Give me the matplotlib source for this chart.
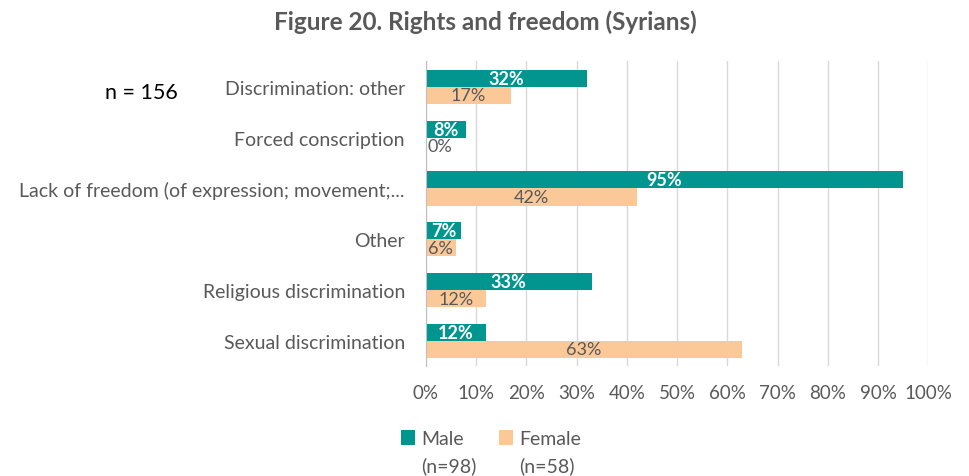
import numpy as np
import matplotlib.pyplot as plt
from matplotlib.ticker import PercentFormatter

# data
categories = ["Discrimination: other", "Forced conscription",
              "Lack of freedom (of expression; movement;...",
              "Other", "Religious discrimination", "Sexual discrimination"]
male = [32, 8, 95, 7, 33, 12]
female = [17, 0, 42, 6, 12, 63]
series_names = ["Male", "Female"]
series_n = ["(n=98)", "(n=58)"]

teal = "#00968F"
peach = "#FBC998"
grey = "#595959"

plt.rcParams['font.family'] = ['Lato', 'DejaVu Sans']

fig = plt.figure(figsize=(9.7, 4.77), dpi=100)
ax = fig.add_axes([0.439, 0.230, 0.518, 0.639])

y = np.arange(len(categories))
h = 0.335
bars_m = ax.barh(y - h / 2, male, height=h, color=teal, label=series_names[0])
bars_f = ax.barh(y + h / 2, female, height=h, color=peach, label=series_names[1])

for b, v in zip(bars_m, male):
    ax.text(v / 2, b.get_y() + b.get_height() / 2, f"{v}%", ha="center",
            va="center", color="white", fontweight="bold", fontsize=13)
for b, v in zip(bars_f, female):
    if v == 0:
        ax.text(0.4, b.get_y() + b.get_height() / 2, f"{v}%", ha="left",
                va="center", color=grey, fontsize=13)
    else:
        ax.text(v / 2, b.get_y() + b.get_height() / 2, f"{v}%", ha="center",
                va="center", color=grey, fontsize=13)

ax.set_xlim(0, 100)
ax.set_ylim(len(categories) - 0.5, -0.5)
ax.set_xticks(np.arange(0, 101, 10))
ax.xaxis.set_major_formatter(PercentFormatter(decimals=0))
ax.set_yticks(y)
ax.set_yticklabels(categories)
ax.tick_params(axis="y", length=0, pad=15, labelsize=14, labelcolor=grey)
ax.tick_params(axis="x", length=0, pad=13, labelsize=13.5, labelcolor=grey)
ax.grid(axis="x", color="#D9D9D9", linewidth=1)
ax.set_axisbelow(True)
for s in ["top", "right", "bottom"]:
    ax.spines[s].set_visible(False)
ax.spines["left"].set_color("#BFBFBF")

fig.text(0.5, 0.953, "Figure 20. Rights and freedom (Syrians)", ha="center",
         va="center", fontsize=17.5, fontweight="bold", color=grey)
fig.text(0.108, 0.805, "n = 156", fontsize=15.5, color="black", va="center")

leg = fig.legend(loc="center", bbox_to_anchor=(0.506, 0.078), ncol=2,
                 frameon=False, fontsize=14, handlelength=0.75,
                 handleheight=0.75, handletextpad=0.3, columnspacing=1.8)
for t in leg.get_texts():
    t.set_color(grey)

# second line of each legend entry, under its label
fig.canvas.draw()
inv = fig.transFigure.inverted()
for t, n in zip(leg.get_texts(), series_n):
    bb = t.get_window_extent()
    x0, y0 = inv.transform((bb.x0, bb.y0))
    fig.text(x0, y0 - 0.018, n, ha="left", va="top", fontsize=14, color=grey)

fig.savefig("out.png", dpi=100)
